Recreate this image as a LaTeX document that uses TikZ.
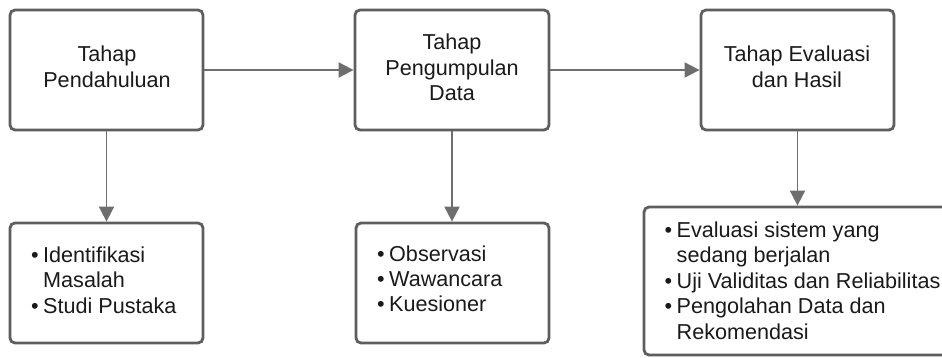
\documentclass[tikz,border=0pt]{standalone}
\usepackage{fontspec}
\setmainfont{Liberation Sans}
\usetikzlibrary{arrows.meta}
\definecolor{boxgray}{HTML}{5E5E5E}
\definecolor{arrgray}{HTML}{6E6E6E}
\definecolor{txt}{HTML}{1A1A1A}
\newcommand{\bul}{\makebox[12pt][l]{\textbullet}}
\newcommand{\ind}{\hspace*{12pt}}
\begin{document}
\begin{tikzpicture}[x=1pt,y=-1pt,
  stagebox/.style={draw=boxgray,line width=2.8pt,rounded corners=5pt,fill=white,inner sep=0pt},
  lbl/.style={text=txt,inner sep=0pt,font=\fontsize{21.6}{25.5}\selectfont},
  conn/.style={draw=arrgray,line width=1.9pt,-{Triangle[length=15pt,width=15pt]}}]
\useasboundingbox (0,0) rectangle (942,358);
\clip (0,0) rectangle (942,358);
% top boxes
\node[stagebox,minimum width=193pt,minimum height=120pt] (A) at (106.5,70) {};
\node[stagebox,minimum width=194pt,minimum height=120pt] (B) at (452,70) {};
\node[stagebox,minimum width=193pt,minimum height=120pt] (C) at (797.5,70) {};
% bottom boxes
\node[stagebox,minimum width=193pt,minimum height=120pt] (a) at (106.5,283) {};
\node[stagebox,minimum width=193pt,minimum height=120pt] (b) at (452.5,283) {};
\node[stagebox,minimum width=316pt,minimum height=148pt] (c) at (802,281) {};
% top labels
\node[lbl,anchor=base] (tA) at (107,62) {\begin{tabular}[t]{@{}c@{}}Tahap\\Pendahuluan\end{tabular}};
\node[lbl,anchor=base] (tB) at (452,50) {\begin{tabular}[t]{@{}c@{}}Tahap\\Pengumpulan\\Data\end{tabular}};
\node[lbl,anchor=base] (tC) at (797,62) {\begin{tabular}[t]{@{}c@{}}Tahap Evaluasi\\dan Hasil\end{tabular}};
% bottom labels
\node[lbl,anchor=base west] (la) at (31,262) {\begin{tabular}[t]{@{}l@{}}\bul Identifikasi\\\ind Masalah\\\bul Studi Pustaka\end{tabular}};
\node[lbl,anchor=base west] (lb) at (377,261) {\begin{tabular}[t]{@{}l@{}}\bul Observasi\\\bul Wawancara\\\bul Kuesioner\end{tabular}};
\node[lbl,anchor=base west] (lc) at (664.5,237) {\begin{tabular}[t]{@{}l@{}}\bul Evaluasi sistem yang\\\ind sedang berjalan\\\bul Uji Validitas dan Reliabilitas\\\bul Pengolahan Data dan\\\ind Rekomendasi\end{tabular}};
% connectors
\draw[conn] (A.east) -- (B.west);
\draw[conn] (B.east) -- (C.west);
\draw[conn] (A.south) -- (a.north);
\draw[conn] (B.south) -- (B.south |- b.north);
\draw[conn] (C.south) -- (C.south |- c.north);
\end{tikzpicture}
\end{document}
